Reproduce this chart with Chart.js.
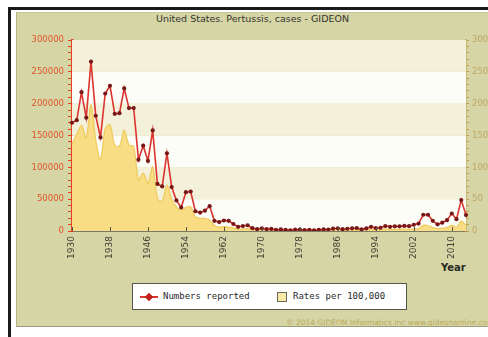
<!DOCTYPE html>
<html>
<head>
<meta charset="utf-8">
<script src="https://cdn.jsdelivr.net/npm/chart.js@4/dist/chart.umd.min.js"></script>
<style>
    html, body { margin: 0; padding: 0; }
    body { width: 488px; height: 337px; overflow: hidden; position: relative; background: #fff; font-family: 'DejaVu Sans', sans-serif; }
    #frameTop { position: absolute; left: 8px; top: 7px; width: 480px; height: 3px; background: #1a1a1a; }
    #frameLeft { position: absolute; left: 8px; top: 7px; width: 3px; height: 330px; background: #1a1a1a; }
    #panel { position: absolute; left: 16px; top: 12px; width: 472px; height: 313px; background: #d6d5a6; border-left: 1px solid #b4b38a; border-top: 1px solid #c8c79c; border-bottom: 1px solid #9c9b7c; }
    #title { position: absolute; left: 17px; top: 12px; width: 471px; text-align: center; font-size: 9.5px; color: #34342e; line-height: 14px; }
    #year { position: absolute; left: 441px; top: 262px; font-size: 10px; font-weight: bold; color: #2a2a24; }
    #legend { position: absolute; left: 132px; top: 283px; width: 275px; height: 27px; box-sizing: border-box; background: #fff; border: 1px solid #55554c; font-family: 'DejaVu Sans Mono', monospace; font-size: 9px; color: #2a2a2a; }
    #legend .txt { position: absolute; top: 7px; line-height: 11px; }
    #legend .ln { position: absolute; left: 7px; top: 12px; width: 18px; height: 2px; background: #d83a30; }
    #legend .dia { position: absolute; left: 13px; top: 10px; width: 6px; height: 6px; background: #c21e18; transform: rotate(45deg); }
    #legend .sq { position: absolute; left: 144px; top: 8px; width: 8px; height: 8px; background: #f8e9a6; border: 1px solid #6a6a5a; }
    #copy { position: absolute; left: 286px; top: 318px; font-size: 7.5px; color: #bba95a; white-space: nowrap; }
    canvas { position: absolute; left: 0; top: 0; }
</style>
</head>
<body>
<div id="frameTop"></div>
<div id="frameLeft"></div>
<div id="panel"></div>
<div id="title">United States. Pertussis, cases - GIDEON</div>
<div id="year">Year</div>
<div id="legend">
    <div class="ln"></div><div class="dia"></div>
    <div class="txt" style="left:30px">Numbers reported</div>
    <div class="sq"></div>
    <div class="txt" style="left:160px">Rates per 100,000</div>
</div>
<div id="copy">© 2014 GIDEON Informatics Inc www.gideononline.com</div>
<canvas id="chart" width="488" height="337"></canvas>

<script>
const years = [
    '1930', '1931', '1932', '1933', '1934', '1935', '1936', '1937', '1938', '1939',
    '1940', '1941', '1942', '1943', '1944', '1945', '1946', '1947', '1948', '1949',
    '1950', '1951', '1952', '1953', '1954', '1955', '1956', '1957', '1958', '1959',
    '1960', '1961', '1962', '1963', '1964', '1965', '1966', '1967', '1968', '1969',
    '1970', '1971', '1972', '1973', '1974', '1975', '1976', '1977', '1978', '1979',
    '1980', '1981', '1982', '1983', '1984', '1985', '1986', '1987', '1988', '1989',
    '1990', '1991', '1992', '1993', '1994', '1995', '1996', '1997', '1998', '1999',
    '2000', '2001', '2002', '2003', '2004', '2005', '2006', '2007', '2008', '2009',
    '2010', '2011', '2012', '2013'
];

// Numbers reported (left axis)
const cases = [
    170000, 174000, 218000, 178000, 266000, 181000, 147000, 216000, 228000, 184000,
    185000, 224000, 193000, 193000, 112000, 134000, 110000, 158000, 74000, 70000,
    122000, 69000, 48000, 37000, 61000, 62000, 31000, 29000, 32000, 39000,
    16000, 14000, 16500, 16000, 11000, 6500, 7800, 9000, 4500, 3000,
    4200, 3000, 3300, 1800, 2400, 1700, 1000, 2200, 2100, 1600,
    1700, 1200, 1900, 2500, 2300, 3600, 4200, 2800, 3500, 4200,
    4600, 2700, 4100, 6600, 4600, 5100, 7800, 6600, 7400, 7300,
    7900, 7600, 9800, 11600, 25500, 25500, 16000, 10500, 13000, 17000,
    27500, 18500, 48500, 25000
];

// Rates per 100,000 (right axis)
const rates = [
    137, 152, 166, 146, 198, 143, 112, 160, 167, 135,
    133, 159, 135, 133, 80, 91, 75, 101, 51, 47,
    72, 50, 38, 33, 37, 38, 22, 20, 20, 17,
    9, 6, 7, 6, 5, 3, 3, 4, 2, 2,
    2, 1.5, 1.5, 1, 1, 1, 0.5, 1, 1, 0.7,
    0.8, 0.5, 0.8, 1, 1, 1.5, 1.7, 1.2, 1.4, 1.7,
    1.8, 1.1, 1.6, 2.6, 1.8, 2, 3, 2.5, 2.7, 2.7,
    2.9, 2.7, 3.4, 4, 8.9, 8.7, 5.3, 3.5, 4.4, 5.5,
    8.9, 6, 15.4, 9
];

const xTickLabels = ['1930', '1938', '1946', '1954', '1962', '1970', '1978', '1986', '1994', '2002', '2010'];
const leftTickLabels = [0, 50000, 100000, 150000, 200000, 250000, 300000];
const rightTickLabels = [0, 50, 100, 150, 200, 250, 300];

// полосы фона и внутренние засечки оси X
const plotDecor = {
    id: 'plotDecor',
    beforeDatasetsDraw(chart) {
        const { ctx, chartArea, scales } = chart;
        ctx.save();
        for (let i = 0; i < leftTickLabels.length - 1; i++) {
            const yTop = scales.y.getPixelForValue(leftTickLabels[i + 1]);
            const yBot = scales.y.getPixelForValue(leftTickLabels[i]);
            ctx.fillStyle = i % 2 === 0 ? '#fdfdf7' : '#f3f1da';
            ctx.fillRect(chartArea.left, yTop, chartArea.right - chartArea.left, yBot - yTop);
        }
        ctx.restore();
    },
    afterDatasetsDraw(chart) {
        const { ctx, chartArea, scales } = chart;
        ctx.save();
        ctx.strokeStyle = '#55554a';
        ctx.lineWidth = 1;
        xTickLabels.forEach(lbl => {
            const x = Math.round(scales.x.getPixelForValue(years.indexOf(lbl))) + 0.5;
            ctx.beginPath();
            ctx.moveTo(x, chartArea.bottom);
            ctx.lineTo(x, chartArea.bottom - 4);
            ctx.stroke();
        });
        ctx.restore();
    }
};

new Chart(document.getElementById('chart').getContext('2d'), {
    type: 'line',
    data: {
        labels: years,
        datasets: [{
            label: 'Numbers reported',
            data: cases,
            yAxisID: 'y',
            borderColor: '#dc3530',
            borderWidth: 1.6,
            pointRadius: 2.1,
            pointBackgroundColor: '#761818',
            pointBorderColor: '#761818',
            pointBorderWidth: 0,
            fill: false,
            tension: 0
        }, {
            label: 'Rates per 100,000',
            data: rates,
            yAxisID: 'y2',
            borderColor: '#efc95c',
            borderWidth: 1.2,
            backgroundColor: '#f8dd84',
            pointRadius: 0,
            fill: 'origin',
            tension: 0.3
        }]
    },
    options: {
        responsive: false,
        animation: false,
        events: [],
        layout: { padding: { top: 40, left: 0, right: 0, bottom: 0 } },
        plugins: {
            legend: { display: false },
            tooltip: { enabled: false }
        },
        scales: {
            x: {
                grid: { display: false, drawTicks: false },
                border: { color: '#7a7a66', width: 1 },
                ticks: {
                    autoSkip: false,
                    minRotation: 90,
                    maxRotation: 90,
                    padding: 5,
                    color: '#3e3e34',
                    font: { family: 'DejaVu Sans', size: 9 },
                    callback: function (value) {
                        const lbl = years[value];
                        return xTickLabels.includes(lbl) ? lbl : '';
                    }
                },
                afterFit: function (scale) { scale.height = 106; }
            },
            y: {
                position: 'left',
                min: 0,
                max: 300000,
                grid: { drawOnChartArea: false, tickLength: 4, tickColor: '#e2401f', lineWidth: 1 },
                border: { color: '#e2401f', width: 2.5 },
                ticks: {
                    stepSize: 10000,
                    autoSkip: false,
                    padding: 4,
                    color: '#e0542a',
                    font: { family: 'DejaVu Sans', size: 8.5 },
                    callback: function (value) {
                        return leftTickLabels.includes(value) ? String(value) : '';
                    }
                },
                afterFit: function (scale) { scale.width = 72; }
            },
            y2: {
                position: 'right',
                min: 0,
                max: 300,
                grid: { drawOnChartArea: false, tickLength: 3, tickColor: '#bf9e52', lineWidth: 1 },
                border: { color: '#bf9e52', width: 1.5 },
                ticks: {
                    stepSize: 10,
                    autoSkip: false,
                    padding: 3,
                    color: '#bda663',
                    font: { family: 'DejaVu Sans', size: 8.5 },
                    callback: function (value) {
                        return rightTickLabels.includes(value) ? String(value) : '';
                    }
                },
                afterFit: function (scale) { scale.width = 22; }
            }
        }
    },
    plugins: [plotDecor]
});
</script>
</body>
</html>
